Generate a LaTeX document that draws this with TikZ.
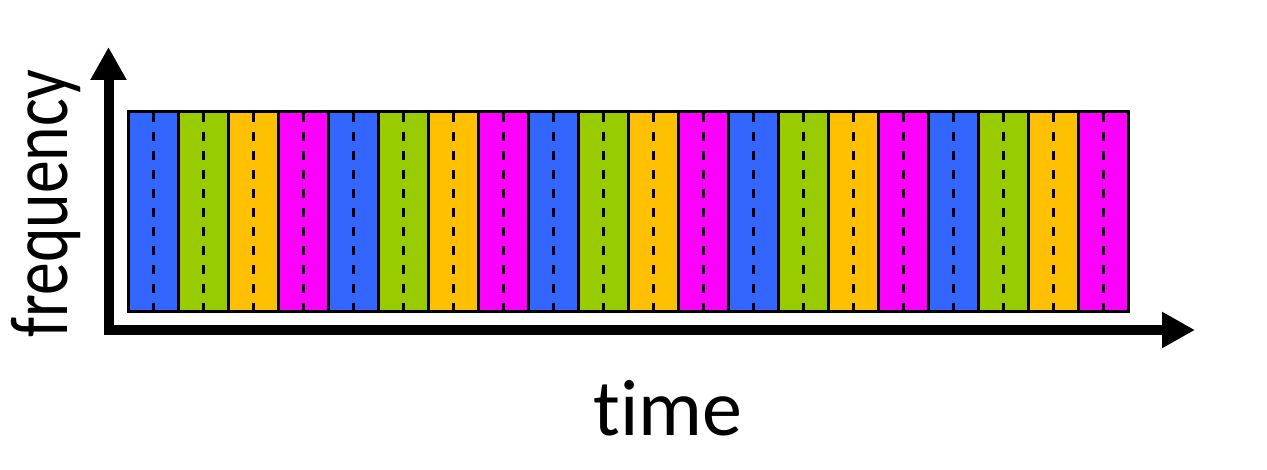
\documentclass[tikz,border=0pt]{standalone}
\usepackage{fontspec}
\setmainfont[Ligatures={NoCommon,NoRequired,NoContextual}]{Carlito}
\usetikzlibrary{arrows.meta}
\definecolor{cblue}{HTML}{3366FF}
\definecolor{cgreen}{HTML}{99CC00}
\definecolor{corange}{HTML}{FFC000}
\definecolor{cmagenta}{HTML}{FF00FF}
\tikzset{
  strip/.style={draw=black, line width=2.5pt},
  divider/.style={draw=black, line width=2.5pt, dash pattern=on 9pt off 10pt, dash phase=-3pt},
  axis/.style={line width=10pt, -{Triangle[length=33pt,width=34pt]}},
  lbl/.style={inner sep=0pt, font=\fontsize{80}{90}\selectfont}
}
\begin{document}
\begin{tikzpicture}[x=1pt,y=1pt]
\useasboundingbox (0,0) rectangle (1267,470);
\foreach \i/\c in {0/cblue,1/cgreen,2/corange,3/cmagenta,4/cblue,5/cgreen,6/corange,7/cmagenta,8/cblue,9/cgreen,10/corange,11/cmagenta,12/cblue,13/cgreen,14/corange,15/cmagenta,16/cblue,17/cgreen,18/corange,19/cmagenta}{
  \node[strip, fill=\c, minimum width=50pt, minimum height=200pt, inner sep=0pt, anchor=south west] (s\i) at ({127+50*\i},157) {};
  \draw[divider] (s\i.north) -- (s\i.south);
}
\coordinate (yo) at (108.5,140);
\coordinate (ytip) at (108.5,423);
\coordinate (xo) at (104,140);
\coordinate (xtip) at (1195,140);
\draw[axis] (yo) -- (ytip);
\draw[axis] (xo) -- (xtip);
\node[lbl, anchor=base] (tl) at (668,34) {t\kern0pt ime};
\node[lbl, anchor=base, rotate=90, font=\fontsize{82}{90}\selectfont] (fl) at (67,266.5) {\scalebox{0.8}[1]{frequency}};
\end{tikzpicture}
\end{document}
